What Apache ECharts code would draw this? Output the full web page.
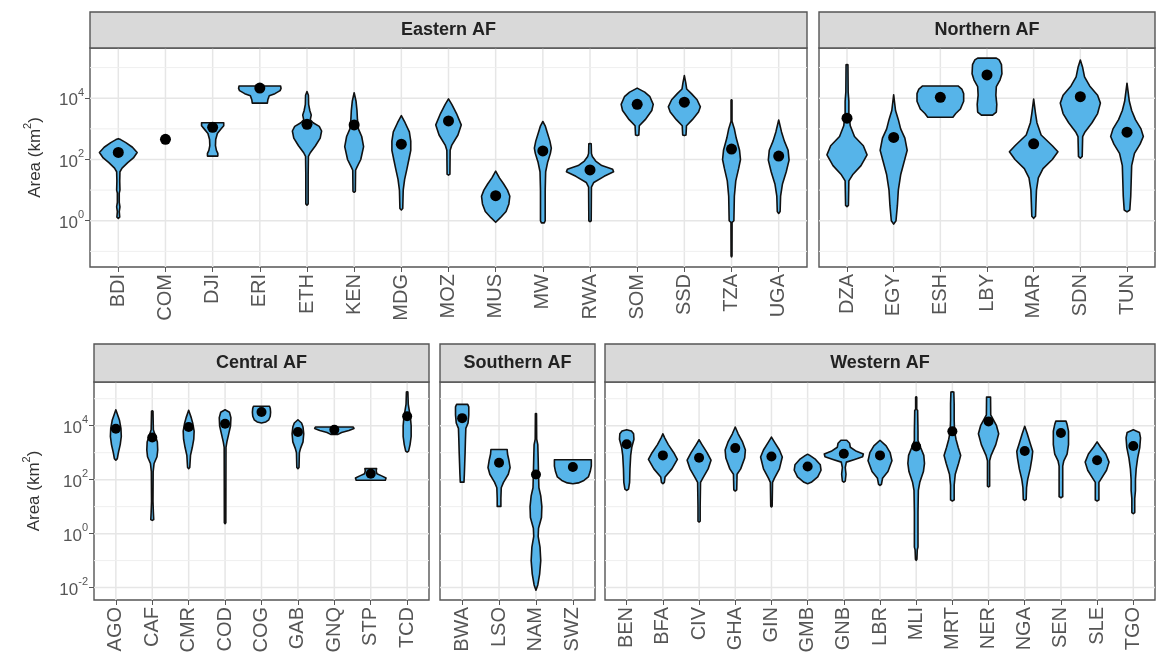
<!DOCTYPE html>
<html><head><meta charset="utf-8">
<script src="https://cdn.jsdelivr.net/npm/echarts@6/dist/echarts.min.js"></script>
<style>html,body{margin:0;padding:0;background:#fff}#c{width:1159px;height:655px}</style>
</head><body><div id="c"></div>
<script>
// values are log10(Area km^2); profiles are [log10 area, half-width in category units]
const easternNames = ['BDI','COM','DJI','ERI','ETH','KEN','MDG','MOZ','MUS','MW','RWA','SOM','SSD','TZA','UGA'];
const easternMedians = [2.23,2.66,3.05,4.33,3.15,3.13,2.5,3.26,0.82,2.28,1.66,3.8,3.87,2.34,2.11];
const easternProfiles = [
 [[0.08,0],[0.12,0.03],[0.3,0.02],[0.45,0.035],[0.6,0.02],[0.9,0.02],[1.0,0.035],[1.3,0.03],[1.6,0.035],[1.72,0.08],[1.9,0.2],[2.05,0.32],[2.23,0.40],[2.4,0.3],[2.55,0.16],[2.65,0.05],[2.68,0]],
 [],
 [[2.11,0.11],[2.2,0.11],[2.3,0.08],[2.45,0.06],[2.65,0.065],[2.85,0.1],[3.0,0.18],[3.1,0.235],[3.2,0.235]],
 [[3.84,0.16],[3.95,0.17],[4.08,0.2],[4.15,0.32],[4.25,0.43],[4.32,0.45],[4.4,0.44]],
 [[0.51,0],[0.55,0.025],[1.5,0.025],[2.1,0.03],[2.22,0.07],[2.45,0.18],[2.7,0.28],[2.93,0.31],[3.08,0.26],[3.2,0.13],[3.3,0.07],[3.45,0.09],[3.6,0.06],[3.8,0.035],[4.1,0.03],[4.22,0]],
 [[0.93,0],[0.96,0.025],[1.65,0.03],[1.75,0.06],[2.0,0.14],[2.42,0.2],[2.75,0.16],[3.0,0.09],[3.3,0.07],[3.6,0.06],[3.9,0.04],[4.18,0]],
 [[0.35,0],[0.4,0.03],[1.0,0.04],[1.35,0.07],[1.7,0.12],[2.0,0.16],[2.3,0.2],[2.6,0.2],[2.9,0.17],[3.2,0.08],[3.43,0]],
 [[1.49,0],[1.52,0.03],[2.3,0.035],[2.47,0.07],[2.8,0.2],[3.13,0.27],[3.5,0.17],[3.8,0.07],[3.98,0]],
 [[-0.05,0],[0.1,0.1],[0.3,0.22],[0.55,0.28],[0.8,0.3],[1.0,0.25],[1.2,0.17],[1.4,0.08],[1.62,0]],
 [[-0.07,0.03],[0.0,0.05],[1.0,0.05],[1.6,0.06],[1.9,0.1],[2.2,0.16],[2.37,0.18],[2.6,0.15],[2.9,0.09],[3.1,0.05],[3.24,0]],
 [[-0.03,0],[0.0,0.025],[1.1,0.03],[1.25,0.08],[1.45,0.3],[1.6,0.5],[1.68,0.48],[1.8,0.25],[1.95,0.12],[2.1,0.05],[2.2,0.03],[2.51,0.025],[2.52,0]],
 [[2.78,0],[2.8,0.035],[3.1,0.045],[3.3,0.17],[3.6,0.31],[3.8,0.34],[4.05,0.27],[4.2,0.16],[4.33,0]],
 [[2.78,0],[2.8,0.035],[3.1,0.045],[3.3,0.17],[3.55,0.3],[3.72,0.34],[3.95,0.27],[4.15,0.15],[4.3,0.05],[4.5,0.03],[4.74,0]],
 [[-1.18,0],[-1.15,0.01],[-0.05,0.012],[0.0,0.05],[0.8,0.06],[1.3,0.09],[1.7,0.15],[2.0,0.19],[2.3,0.17],[2.7,0.1],[3.0,0.06],[3.2,0.02],[3.25,0.01],[3.94,0.01],[3.95,0]],
 [[0.24,0],[0.3,0.03],[0.8,0.04],[1.2,0.08],[1.6,0.16],[1.98,0.22],[2.3,0.2],[2.6,0.12],[2.9,0.06],[3.29,0]]
];
const northernNames = ['DZA','EGY','ESH','LBY','MAR','SDN','TUN'];
const northernMedians = [3.35,2.72,4.03,4.76,2.51,4.05,2.89];
const northernProfiles = [
 [[0.46,0],[0.5,0.03],[1.3,0.04],[1.5,0.12],[1.8,0.3],[2.15,0.43],[2.45,0.35],[2.75,0.16],[3.1,0.07],[3.5,0.04],[3.9,0.04],[4.2,0.025],[5.09,0.02],[5.1,0]],
 [[-0.11,0],[0.0,0.05],[0.5,0.08],[1.0,0.1],[1.5,0.15],[1.9,0.22],[2.3,0.29],[2.7,0.24],[3.0,0.15],[3.3,0.1],[3.6,0.04],[4.11,0]],
 [[3.38,0.27],[3.5,0.33],[3.65,0.43],[3.9,0.5],[4.15,0.5],[4.3,0.46],[4.4,0.38]],
 [[3.45,0.12],[3.55,0.2],[3.8,0.21],[4.1,0.19],[4.38,0.2],[4.6,0.28],[4.8,0.32],[5.1,0.31],[5.25,0.26],[5.31,0.2]],
 [[0.08,0],[0.15,0.04],[0.6,0.05],[1.0,0.06],[1.4,0.1],[1.7,0.2],[2.0,0.4],[2.25,0.52],[2.45,0.4],[2.8,0.16],[3.2,0.07],[3.5,0.04],[3.97,0]],
 [[2.04,0],[2.1,0.04],[2.75,0.05],[2.9,0.1],[3.2,0.25],[3.5,0.37],[3.84,0.43],[4.1,0.37],[4.4,0.2],[4.7,0.09],[5.0,0.05],[5.25,0]],
 [[0.29,0],[0.35,0.06],[0.8,0.08],[1.3,0.09],[1.8,0.1],[2.2,0.16],[2.5,0.28],[2.75,0.35],[3.0,0.3],[3.3,0.18],[3.6,0.1],[3.9,0.05],[4.49,0]]
];
const centralNames = ['AGO','CAF','CMR','COD','COG','GAB','GNQ','STP','TCD'];
const centralMedians = [3.89,3.56,3.95,4.07,4.51,3.77,3.85,2.22,4.35];
const centralProfiles = [
 [[2.72,0],[2.78,0.04],[3.0,0.07],[3.3,0.12],[3.6,0.15],[3.9,0.14],[4.2,0.1],[4.4,0.05],[4.59,0]],
 [[0.49,0],[0.52,0.04],[0.8,0.03],[1.2,0.02],[2.3,0.025],[2.6,0.05],[2.85,0.13],[3.1,0.15],[3.4,0.14],[3.65,0.08],[3.85,0.03],[4.54,0.02],[4.55,0]],
 [[2.41,0],[2.45,0.03],[2.9,0.05],[3.2,0.1],[3.5,0.14],[3.8,0.15],[4.1,0.11],[4.3,0.07],[4.57,0]],
 [[0.37,0],[0.4,0.02],[3.2,0.025],[3.4,0.05],[3.7,0.1],[4.0,0.15],[4.3,0.16],[4.5,0.12],[4.59,0]],
 [[4.1,0],[4.14,0.12],[4.22,0.2],[4.35,0.24],[4.5,0.25],[4.65,0.24],[4.72,0.22]],
 [[2.41,0],[2.45,0.03],[3.0,0.04],[3.15,0.07],[3.4,0.14],[3.7,0.16],[3.95,0.14],[4.1,0.1],[4.22,0]],
 [[3.68,0.1],[3.75,0.2],[3.82,0.4],[3.9,0.54],[3.95,0.52]],
 [[1.98,0.4],[2.06,0.42],[2.14,0.3],[2.22,0.17],[2.32,0.15],[2.41,0.16]],
 [[3.02,0],[3.06,0.04],[3.3,0.08],[3.6,0.11],[4.0,0.11],[4.3,0.09],[4.55,0.06],[4.8,0.03],[5.25,0.02],[5.26,0]]
];
const southernNames = ['BWA','LSO','NAM','SWZ'];
const southernMedians = [4.28,2.63,2.19,2.47];
const southernProfiles = [
 [[1.91,0.05],[2.2,0.06],[2.6,0.07],[3.0,0.08],[3.5,0.09],[3.9,0.1],[4.1,0.16],[4.4,0.18],[4.7,0.18],[4.79,0.15]],
 [[1.01,0.05],[1.3,0.05],[1.7,0.06],[1.9,0.12],[2.2,0.25],[2.45,0.3],[2.7,0.27],[2.95,0.23],[3.12,0.22]],
 [[-2.1,0],[-1.9,0.05],[-1.5,0.1],[-1.0,0.13],[-0.5,0.11],[-0.1,0.06],[0.2,0.07],[0.6,0.15],[1.0,0.16],[1.4,0.13],[1.7,0.08],[2.2,0.07],[2.8,0.06],[3.3,0.05],[3.5,0.02],[4.44,0.015],[4.45,0]],
 [[1.85,0],[1.88,0.15],[1.97,0.3],[2.1,0.42],[2.3,0.47],[2.5,0.5],[2.65,0.5],[2.74,0.5]]
];
const westernNames = ['BEN','BFA','CIV','GHA','GIN','GMB','GNB','LBR','MLI','MRT','NER','NGA','SEN','SLE','TGO'];
const westernMedians = [3.31,2.9,2.81,3.17,2.86,2.49,2.96,2.9,3.23,3.79,4.16,3.06,3.73,2.72,3.25];
const westernProfiles = [
 [[1.6,0],[1.65,0.05],[1.9,0.08],[2.4,0.09],[2.9,0.11],[3.2,0.14],[3.5,0.2],[3.7,0.19],[3.8,0.13],[3.85,0]],
 [[1.85,0],[1.9,0.04],[2.1,0.06],[2.4,0.25],[2.75,0.4],[3.0,0.3],[3.3,0.15],[3.55,0.05],[3.7,0]],
 [[0.43,0],[0.46,0.03],[1.0,0.03],[1.9,0.04],[2.05,0.1],[2.4,0.25],[2.72,0.33],[3.0,0.22],[3.3,0.08],[3.48,0]],
 [[1.58,0],[1.62,0.04],[2.2,0.05],[2.4,0.15],[2.8,0.26],[3.1,0.28],[3.4,0.2],[3.7,0.08],[3.95,0]],
 [[0.99,0],[1.02,0.02],[1.9,0.03],[2.05,0.08],[2.4,0.22],[2.84,0.3],[3.1,0.22],[3.4,0.08],[3.58,0]],
 [[1.85,0],[1.9,0.1],[2.1,0.28],[2.35,0.37],[2.55,0.35],[2.75,0.22],[2.9,0.06],[2.94,0]],
 [[1.91,0],[1.95,0.04],[2.2,0.06],[2.45,0.04],[2.65,0.07],[2.75,0.3],[2.85,0.52],[2.95,0.54],[3.05,0.35],[3.2,0.18],[3.35,0.16],[3.46,0.08]],
 [[1.79,0],[1.83,0.04],[2.05,0.07],[2.3,0.22],[2.7,0.33],[3.0,0.28],[3.25,0.17],[3.46,0]],
 [[-0.99,0],[-0.95,0.02],[-0.6,0.03],[-0.5,0.05],[0.8,0.05],[1.6,0.06],[1.9,0.1],[2.3,0.2],[2.6,0.23],[2.9,0.21],[3.2,0.12],[3.45,0.05],[3.8,0.05],[4.57,0.04],[4.6,0.015],[5.06,0.015],[5.07,0]],
 [[1.21,0],[1.25,0.05],[1.8,0.05],[2.2,0.08],[2.6,0.17],[2.9,0.23],[3.2,0.16],[3.5,0.1],[3.8,0.06],[4.2,0.05],[4.8,0.05],[5.25,0.04],[5.26,0]],
 [[1.73,0],[1.76,0.03],[2.7,0.03],[2.9,0.07],[3.3,0.2],[3.7,0.28],[4.0,0.22],[4.25,0.12],[4.4,0.06],[5.06,0.055]],
 [[1.23,0],[1.27,0.04],[1.7,0.05],[2.0,0.08],[2.4,0.15],[2.8,0.2],[3.05,0.22],[3.35,0.15],[3.7,0.07],[3.98,0]],
 [[1.33,0],[1.37,0.05],[2.5,0.05],[2.7,0.08],[2.95,0.17],[3.3,0.21],[3.8,0.21],[4.05,0.17],[4.17,0.14]],
 [[1.21,0],[1.25,0.05],[1.9,0.05],[2.05,0.12],[2.35,0.26],[2.65,0.33],[2.95,0.24],[3.2,0.1],[3.4,0]],
 [[0.74,0],[0.78,0.04],[1.3,0.04],[1.6,0.06],[2.0,0.06],[2.4,0.08],[2.8,0.12],[3.2,0.18],[3.55,0.2],[3.75,0.17],[3.85,0]]
];
const topMajorTicks = [0,2,4];
const topMinorTicks = [-1,1,3,5];
const bottomMajorTicks = [-2,0,2,4];
const bottomMinorTicks = [-1,1,3,5];

const FONT = '"Liberation Sans", Arial, Helvetica, sans-serif';
const panels = [
 {title:'Eastern AF', names:easternNames, med:easternMedians, prof:easternProfiles, left:90, top:48, width:717, height:219, yMin:-1.51, yMax:5.64, major:topMajorTicks, minor:topMinorTicks, yLabels:true, nameGap:46, stripH:36, dot:11},
 {title:'Northern AF', names:northernNames, med:northernMedians, prof:northernProfiles, left:819, top:48, width:336, height:219, yMin:-1.51, yMax:5.64, major:topMajorTicks, minor:topMinorTicks, yLabels:false, stripH:36, dot:11},
 {title:'Central AF', names:centralNames, med:centralMedians, prof:centralProfiles, left:94, top:382, width:335, height:218, yMin:-2.46, yMax:5.62, major:bottomMajorTicks, minor:bottomMinorTicks, yLabels:true, nameGap:51, stripH:38, dot:10},
 {title:'Southern AF', names:southernNames, med:southernMedians, prof:southernProfiles, left:440, top:382, width:155, height:218, yMin:-2.46, yMax:5.62, major:bottomMajorTicks, minor:bottomMinorTicks, yLabels:false, stripH:38, dot:10},
 {title:'Western AF', names:westernNames, med:westernMedians, prof:westernProfiles, left:605, top:382, width:550, height:218, yMin:-2.46, yMax:5.62, major:bottomMajorTicks, minor:bottomMinorTicks, yLabels:false, stripH:38, dot:10}
];

const grids = [], xAxes = [], yAxes = [], series = [], graphics = [];
panels.forEach((p, k) => {
  const n = p.names.length;
  const idx = p.names.map((_, i) => i);
  grids.push({left:p.left, top:p.top, width:p.width, height:p.height, show:true, borderColor:'#555', borderWidth:1.4, backgroundColor:'#fff', containLabel:false, outerBoundsMode:'none'});
  xAxes.push({type:'value', gridIndex:k, min:-0.6, max:n-1+0.6, splitLine:{show:false}, axisLine:{show:false, onZero:false},
    axisTick:{show:true, customValues:idx, length:5, lineStyle:{color:'#555', width:1}},
    axisLabel:{show:true, customValues:idx, rotate:90, margin:7, fontSize:20, color:'#555', fontFamily:FONT, formatter:v => p.names[Math.round(v)]}});
  yAxes.push({type:'value', gridIndex:k, min:p.yMin, max:p.yMax, splitLine:{show:false}, axisLine:{show:false, onZero:false},
    axisTick:{show:p.yLabels, customValues:p.major, length:5, lineStyle:{color:'#555', width:1}},
    axisLabel:{show:p.yLabels, customValues:p.major, margin:6, color:'#555', fontFamily:FONT,
      formatter:v => '{b|10}{s|' + v + '}',
      rich:{b:{fontSize:17, color:'#555', fontFamily:FONT, lineHeight:22, verticalAlign:'bottom'}, s:{fontSize:11, color:'#555', fontFamily:FONT, lineHeight:22, verticalAlign:'top'}}},
    name: p.yLabels ? '{t|Area (km}{s|2}{t|)}' : '', nameLocation:'middle', nameGap:p.nameGap || 40, nameRotate:90,
    nameTextStyle:{rich:{t:{fontSize:17, color:'#333', fontFamily:FONT, lineHeight:22, verticalAlign:'bottom'}, s:{fontSize:11, color:'#333', fontFamily:FONT, lineHeight:22, verticalAlign:'top'}}}
  });
  const gl = [];
  idx.forEach(i => gl.push([i, p.yMin, 0]));
  p.major.forEach(v => gl.push([-0.6, v, 1]));
  p.minor.forEach(v => gl.push([-0.6, v, 2]));
  series.push({type:'custom', xAxisIndex:k, yAxisIndex:k, z:1, silent:true, data:gl, encode:{x:0, y:1},
    renderItem:(params, api) => {
      const cs = params.coordSys; const t = api.value(2);
      if (t === 0) { const x = api.coord([api.value(0), 0])[0];
        return {type:'line', shape:{x1:x, y1:cs.y, x2:x, y2:cs.y + cs.height}, style:{stroke:'#E6E6E6', lineWidth:1.5}}; }
      const y = api.coord([0, api.value(1)])[1];
      return {type:'line', shape:{x1:cs.x, y1:y, x2:cs.x + cs.width, y2:y}, style:{stroke: t === 1 ? '#E6E6E6' : '#EFEFEF', lineWidth: t === 1 ? 1.5 : 1}};
    }});
  series.push({type:'custom', xAxisIndex:k, yAxisIndex:k, z:3, silent:true, data:p.med.map((m, i) => [i, m]), encode:{x:0, y:1},
    renderItem:(params, api) => {
      const pr = p.prof[params.dataIndex];
      if (!pr || !pr.length) return null;
      const x = api.value(0);
      const right = pr.map(q => api.coord([x + q[1], q[0]]));
      const left = pr.slice().reverse().map(q => api.coord([x - q[1], q[0]]));
      return {type:'polygon', shape:{points:right.concat(left)}, style:{fill:'#56B4E9', stroke:'#111', lineWidth:1.6, lineJoin:'round'}};
    }});
  series.push({type:'scatter', xAxisIndex:k, yAxisIndex:k, z:5, silent:true, symbol:'circle', symbolSize:p.dot, itemStyle:{color:'#000', opacity:1}, data:p.med.map((m, i) => [i, m])});
  graphics.push({type:'rect', shape:{x:p.left, y:p.top - p.stripH, width:p.width, height:p.stripH}, style:{fill:'#D9D9D9', stroke:'#555', lineWidth:1.4}, z:10});
  graphics.push({type:'text', x:p.left + p.width / 2, y:p.top - p.stripH / 2, style:{text:p.title, fill:'#222', font:'bold 18px ' + FONT, align:'center', verticalAlign:'middle'}, z:11});
});

const chart = echarts.init(document.getElementById('c'), null, {renderer:'canvas'});
chart.setOption({animation:false, backgroundColor:'#fff', grid:grids, xAxis:xAxes, yAxis:yAxes, series:series, graphic:graphics});
</script></body></html>
